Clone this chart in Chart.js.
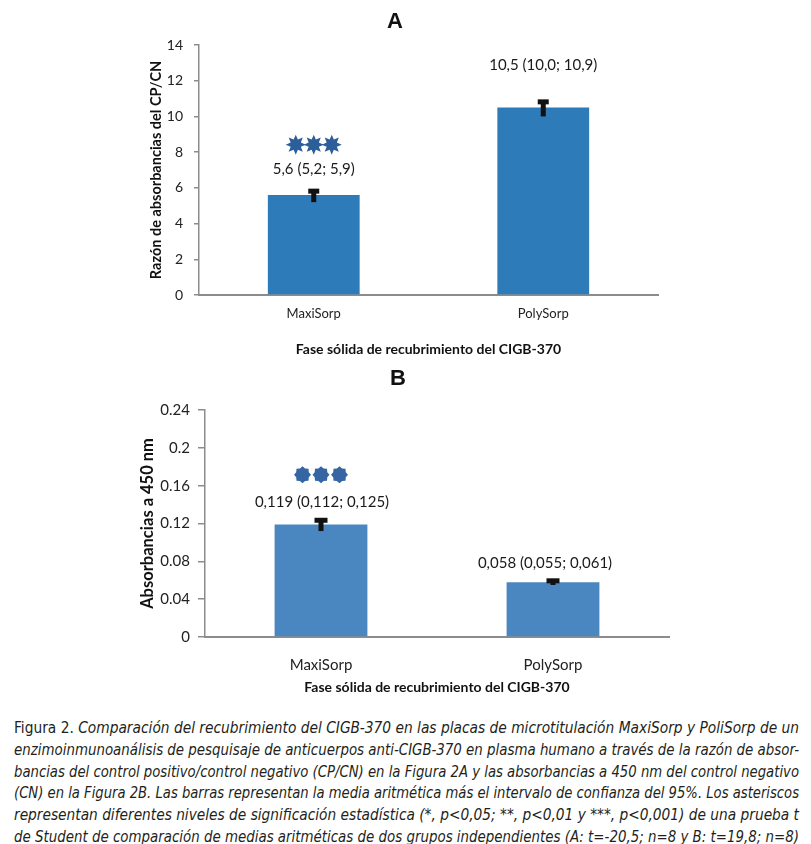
<!DOCTYPE html>
<html><head><meta charset="utf-8">
<script src="https://cdn.jsdelivr.net/npm/chart.js@4.4.1/dist/chart.umd.min.js"></script>
<style>
html,body{margin:0;padding:0;background:#fff;}
body{width:811px;height:844px;position:relative;overflow:hidden;}
#wrapA{position:absolute;left:0;top:0;width:811px;height:365px;}
#wrapB{position:absolute;left:0;top:365px;width:811px;height:340px;}
#caption{position:absolute;left:14px;top:718px;width:785px;font-family:'Liberation Sans Narrow','DejaVu Sans Condensed','Liberation Sans',sans-serif;font-size:15.5px;color:#231f20;line-height:21.8px;}
.ln{white-space:nowrap;display:block;height:21.8px;}
.ln span.t{display:inline-block;transform-origin:left center;white-space:nowrap;}
</style></head><body>
<div id="wrapA"><canvas id="cA" width="811" height="365" style="width:811px;height:365px"></canvas></div>
<div id="wrapB"><canvas id="cB" width="811" height="340" style="width:811px;height:340px"></canvas></div>
<div id="caption">
<div class="ln"><span class="t">Figura 2. <i>Comparación del recubrimiento del CIGB-370 en las placas de microtitulación MaxiSorp y PoliSorp de un</i></span></div>
<div class="ln"><span class="t"><i>enzimoinmunoanálisis de pesquisaje de anticuerpos anti-CIGB-370 en plasma humano a través de la razón de absor-</i></span></div>
<div class="ln"><span class="t"><i>bancias del control positivo/control negativo (CP/CN) en la Figura 2A y las absorbancias a 450 nm del control negativo</i></span></div>
<div class="ln"><span class="t"><i>(CN) en la Figura 2B. Las barras representan la media aritmética más el intervalo de confianza del 95%. Los asteriscos</i></span></div>
<div class="ln"><span class="t"><i>representan diferentes niveles de significación estadística (*, p&lt;0,05; **, p&lt;0,01 y ***, p&lt;0,001) de una prueba t</i></span></div>
<div class="ln"><span class="t"><i>de Student de comparación de medias aritméticas de dos grupos independientes (A: t=-20,5; n=8 y B: t=19,8; n=8)</i></span></div>
</div>
<script>
// ---- data ----
const categories = ['MaxiSorp', 'PolySorp'];
const cpcnMean = [5.6, 10.5];
const cpcnLow  = [5.2, 10.0];
const cpcnHigh = [5.9, 10.9];
const cpcnStars = ['***', ''];
const cpcnTicks = [0, 2, 4, 6, 8, 10, 12, 14];

const absMean = [0.119, 0.058];
const absLow  = [0.112, 0.055];
const absHigh = [0.125, 0.061];
const absStars = ['***', ''];
const absTicks = [0, 0.04, 0.08, 0.12, 0.16, 0.2, 0.24];

const fmt = (v, d) => v.toFixed(d).replace('.', ',');
const cpcnLabels = cpcnMean.map((m, i) => `${fmt(m,1)} (${fmt(cpcnLow[i],1)}; ${fmt(cpcnHigh[i],1)})`);
const absLabels = absMean.map((m, i) => `${fmt(m,3)} (${fmt(absLow[i],3)}; ${fmt(absHigh[i],3)})`);

const FONT = 'Lato';

function star8(ctx, cx, cy, ro, ri, n) {
  ctx.beginPath();
  for (let k = 0; k < n * 2; k++) {
    const r = k % 2 === 0 ? ro : ri;
    const a = -Math.PI / 2 + k * Math.PI / n;
    const px = cx + r * Math.cos(a), py = cy + r * Math.sin(a);
    if (k === 0) ctx.moveTo(px, py); else ctx.lineTo(px, py);
  }
  ctx.closePath();
  ctx.fill();
}

const annot = {
  id: 'annot',
  afterDatasetsDraw(chart, args, o) {
    const ctx = chart.ctx, ys = chart.scales.y;
    const meta = chart.getDatasetMeta(0);
    ctx.save();
    ctx.font = `bold 22px "Liberation Sans", Arial, sans-serif`;
    ctx.fillStyle = '#111';
    ctx.textAlign = 'center'; ctx.textBaseline = 'middle';
    ctx.fillText(o.letter, o.letterX, o.letterY);
    meta.data.forEach((bar, i) => {
      const cx = bar.x;
      const yl = ys.getPixelForValue(o.low[i]);
      const yh = ys.getPixelForValue(o.high[i]);
      ctx.fillStyle = '#111';
      ctx.fillRect(cx - 2.5, yh, 5, yl - yh);
      ctx.fillRect(cx - o.capW / 2, yh - 1, o.capW, 5);
      ctx.font = `${o.labelSize}px ${FONT}`;
      ctx.fillStyle = '#1a1a1a';
      ctx.textAlign = 'center'; ctx.textBaseline = 'middle';
      ctx.fillText(o.labels[i], cx + o.labelDx[i], yh - o.labelOff[i]);
      const n = o.stars[i].length;
      ctx.fillStyle = o.starColor;
      for (let k = 0; k < n; k++) {
        const sx = cx + (k - (n - 1) / 2) * o.starGap;
        const sy = yh - o.starOff;
        star8(ctx, sx, sy, o.starRo, o.starRi, o.starPts);
      }
    });
    ctx.restore();
  }
};

function makeChart(id, cfg) {
  return new Chart(document.getElementById(id), {
    type: 'bar',
    data: { labels: categories, datasets: [{ data: cfg.values, backgroundColor: cfg.color, barPercentage: 0.8, categoryPercentage: 0.5 }] },
    plugins: [annot],
    options: {
      responsive: false, animation: false,
      layout: { padding: cfg.padding },
      plugins: { legend: { display: false }, tooltip: { enabled: false }, annot: cfg.annot },
      scales: {
        x: {
          grid: { display: false },
          border: { display: true, color: '#8c8c8c', width: 2 },
          ticks: { padding: cfg.xTickPad, color: '#222', font: { family: FONT, size: cfg.xTickSize } },
          title: { display: true, text: 'Fase sólida de recubrimiento del CIGB-370', color: '#111', font: { family: FONT, size: 14, weight: 'bold' }, padding: { top: 0, bottom: cfg.xTitlePad } },
          afterFit(s) { s.height = cfg.xHeight; }
        },
        y: {
          min: 0, max: cfg.max,
          grid: { display: true, drawOnChartArea: false, drawTicks: true, tickLength: cfg.tickLen, color: '#8c8c8c', lineWidth: 1.5 },
          border: { display: true, color: '#8c8c8c', width: 1.5 },
          ticks: { padding: cfg.yTickPad, color: '#222', font: { family: FONT, size: cfg.yTickSize }, callback: v => String(+v.toFixed(2)) },
          afterBuildTicks(s) { s.ticks = cfg.ticks.map(v => ({ value: v })); },
          title: { display: true, text: cfg.yTitle, color: '#111', font: { family: FONT, size: cfg.yTitleSize, weight: 'bold' }, padding: 0 },
          afterFit(s) { s.width = cfg.yWidth; }
        }
      }
    }
  });
}

makeChart('cA', {
  values: cpcnMean, color: '#2E7BBA', max: 14, ticks: cpcnTicks,
  padding: { left: 148, right: 153, top: 45, bottom: 0 },
  xHeight: 70, xTickPad: 3, xTickSize: 13, xTitlePad: 7,
  yWidth: 51, tickLen: 5, yTickPad: 11, yTickSize: 14, yTitle: 'Razón de absorbancias del CP/CN', yTitleSize: 14.5,
  annot: { letter: 'A', letterX: 395, letterY: 22, low: cpcnLow, high: cpcnHigh, labels: cpcnLabels,
    labelSize: 15, labelDx: [0, 0], labelOff: [20, 35], capW: 11,
    stars: cpcnStars, starColor: '#2C5E99', starGap: 18, starOff: 45, starRo: 10, starRi: 5.5, starPts: 8 }
});

makeChart('cB', {
  values: absMean, color: '#4A87C0', max: 0.24, ticks: absTicks,
  padding: { left: 138, right: 142, top: 45, bottom: 0 },
  xHeight: 68, xTickPad: 11, xTickSize: 15, xTitlePad: 9,
  yWidth: 67, tickLen: 7, yTickPad: 8, yTickSize: 15, yTitle: 'Absorbancias a 450 nm', yTitleSize: 16.5,
  annot: { letter: 'B', letterX: 398, letterY: 14, low: absLow, high: absHigh, labels: absLabels,
    labelSize: 15, labelDx: [1, -8], labelOff: [17, 16], capW: 13,
    stars: absStars, starColor: '#3566A3', starGap: 18.5, starOff: 44, starRo: 8.5, starRi: 6.8, starPts: 8 }
});

function fitCaption() {
  const W = 785;
  document.querySelectorAll('#caption .t').forEach(sp => {
    sp.style.transform = ''; sp.style.wordSpacing = '';
    const w = sp.getBoundingClientRect().width;
    if (w > W) {
      sp.style.transform = `scaleX(${W / w})`;
    } else {
      const spaces = (sp.textContent.match(/ /g) || []).length;
      if (spaces) sp.style.wordSpacing = ((W - w) / spaces) + 'px';
    }
  });
}
fitCaption();
if (document.fonts && document.fonts.ready) document.fonts.ready.then(fitCaption);
</script>
</body></html>
